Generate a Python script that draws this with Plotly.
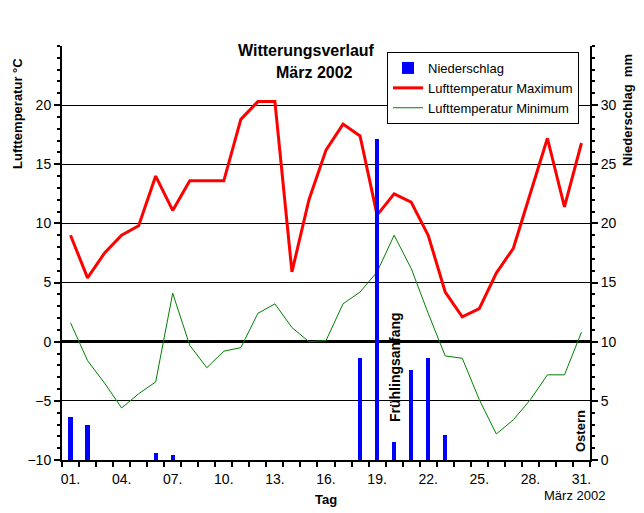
import plotly.graph_objects as go

days = list(range(1, 32))
t_max = [9.0, 5.4, 7.5, 9.0, 9.8, 14.0, 11.1, 13.6, 13.6, 13.6, 18.8, 20.3, 20.3, 5.9, 12.0,
         16.2, 18.4, 17.4, 10.7, 12.5, 11.8, 9.0, 4.2, 2.1, 2.8, 5.8, 7.9, 12.6, 17.2, 11.4, 16.8]
t_min = [1.6, -1.6, -3.5, -5.6, -4.4, -3.4, 4.1, -0.3, -2.2, -0.8, -0.5, 2.4, 3.2, 1.2, 0.0,
         0.1, 3.2, 4.2, 5.9, 9.0, 6.2, 2.4, -1.2, -1.4, -4.9, -7.8, -6.6, -4.9, -2.8, -2.8, 0.8]
precip = [3.6, 3.0, 0, 0, 0, 0.56, 0.4, 0, 0, 0, 0, 0, 0, 0, 0,
          0, 0, 8.6, 27.1, 1.5, 7.6, 8.6, 2.1, 0, 0, 0, 0, 0, 0, 0, 0]
tick_days = [1, 4, 7, 10, 13, 16, 19, 22, 25, 28, 31]
tick_text = ["01.", "04.", "07.", "10.", "13.", "16.", "19.", "22.", "25.", "28.", "31."]

W, H = 644, 513
L, R, T, B = 62, 54, 46, 53
PW, PH = W - L - R, H - T - B
FONT = "Liberation Sans, Arial, sans-serif"


def px(x):
    return (x - L) / PW


def py(y):
    return (H - B - y) / PH


fig = go.Figure()
fig.add_trace(go.Bar(x=days, y=precip, name="Niederschlag", yaxis="y2",
                     marker=dict(color="#0000FF", line=dict(width=0)), width=0.25))
fig.add_trace(go.Scatter(x=days, y=t_max, name="Lufttemperatur Maximum", mode="lines",
                         line=dict(color="#FF0000", width=3)))
fig.add_trace(go.Scatter(x=days, y=t_min, name="Lufttemperatur Minimum", mode="lines",
                         line=dict(color="#008000", width=1)))

axis_common = dict(showline=True, linecolor="black", linewidth=2,
                   ticks="outside", tickcolor="black", tickwidth=2, ticklen=6,
                   tickfont=dict(family=FONT, size=14, color="black"))

fig.update_layout(
    width=W, height=H,
    margin=dict(l=L, r=R, t=T, b=B),
    paper_bgcolor="white", plot_bgcolor="white",
    font=dict(family=FONT, color="black"),
    bargap=0,
    xaxis=dict(range=[0.5, 31.5], tickmode="array", tickvals=tick_days, ticktext=tick_text,
               showline=True, linecolor="black", linewidth=2,
               ticks="outside", ticklen=5, tickcolor="rgba(0,0,0,0)",
               tickfont=dict(family=FONT, size=14, color="black"),
               showgrid=False, zeroline=False,
               minor=dict(tickmode="linear", tick0=0.5, dtick=1, ticks="outside",
                          ticklen=5, tickwidth=2, tickcolor="black", showgrid=False)),
    yaxis=dict(range=[-10, 25], tickmode="array", tickvals=[-10, -5, 0, 5, 10, 15, 20],
               showgrid=True, gridcolor="black", gridwidth=1,
               zeroline=True, zerolinecolor="black", zerolinewidth=3,
               minor=dict(tickmode="linear", tick0=0, dtick=1, ticks="outside",
                          ticklen=3, tickwidth=2, tickcolor="black", showgrid=False),
               **axis_common),
    yaxis2=dict(range=[0, 35], overlaying="y", side="right", tickmode="array",
                tickvals=[0, 5, 10, 15, 20, 25, 30], showgrid=False, zeroline=False,
                minor=dict(tickmode="linear", tick0=0, dtick=1, ticks="outside",
                           ticklen=3, tickwidth=2, tickcolor="black", showgrid=False),
                **axis_common),
    legend=dict(x=px(387), y=py(52), xanchor="left", yanchor="top",
                bgcolor="white", bordercolor="black", borderwidth=1,
                font=dict(family=FONT, size=13, color="black"),
                tracegroupgap=0, itemwidth=30),
    showlegend=True,
)

ann = [
    dict(text="<b>Witterungsverlauf</b>", x=px(306), y=py(50), size=16),
    dict(text="<b>März 2002</b>", x=px(314), y=py(73), size=16),
    dict(text="<b>Lufttemperatur °C</b>", x=px(18), y=py(114), size=13, angle=-90),
    dict(text="<b>Niederschlag\u00a0 mm</b>", x=px(627), y=py(110), size=13, angle=-90),
    dict(text="<b>Tag</b>", x=px(326), y=py(499), size=13),
    dict(text="März 2002", x=px(574), y=py(495), size=13),
    dict(text="<b>Frühlingsanfang</b>", x=px(395), y=py(367), size=14, angle=-90),
    dict(text="<b>Ostern</b>", x=px(580), y=py(431), size=13, angle=-90),
]
for a in ann:
    fig.add_annotation(text=a["text"], x=a["x"], y=a["y"], xref="paper", yref="paper",
                       xanchor="center", yanchor="middle", showarrow=False,
                       textangle=a.get("angle", 0),
                       font=dict(family=FONT, size=a["size"], color="black"))

fig.write_html("out.html")
